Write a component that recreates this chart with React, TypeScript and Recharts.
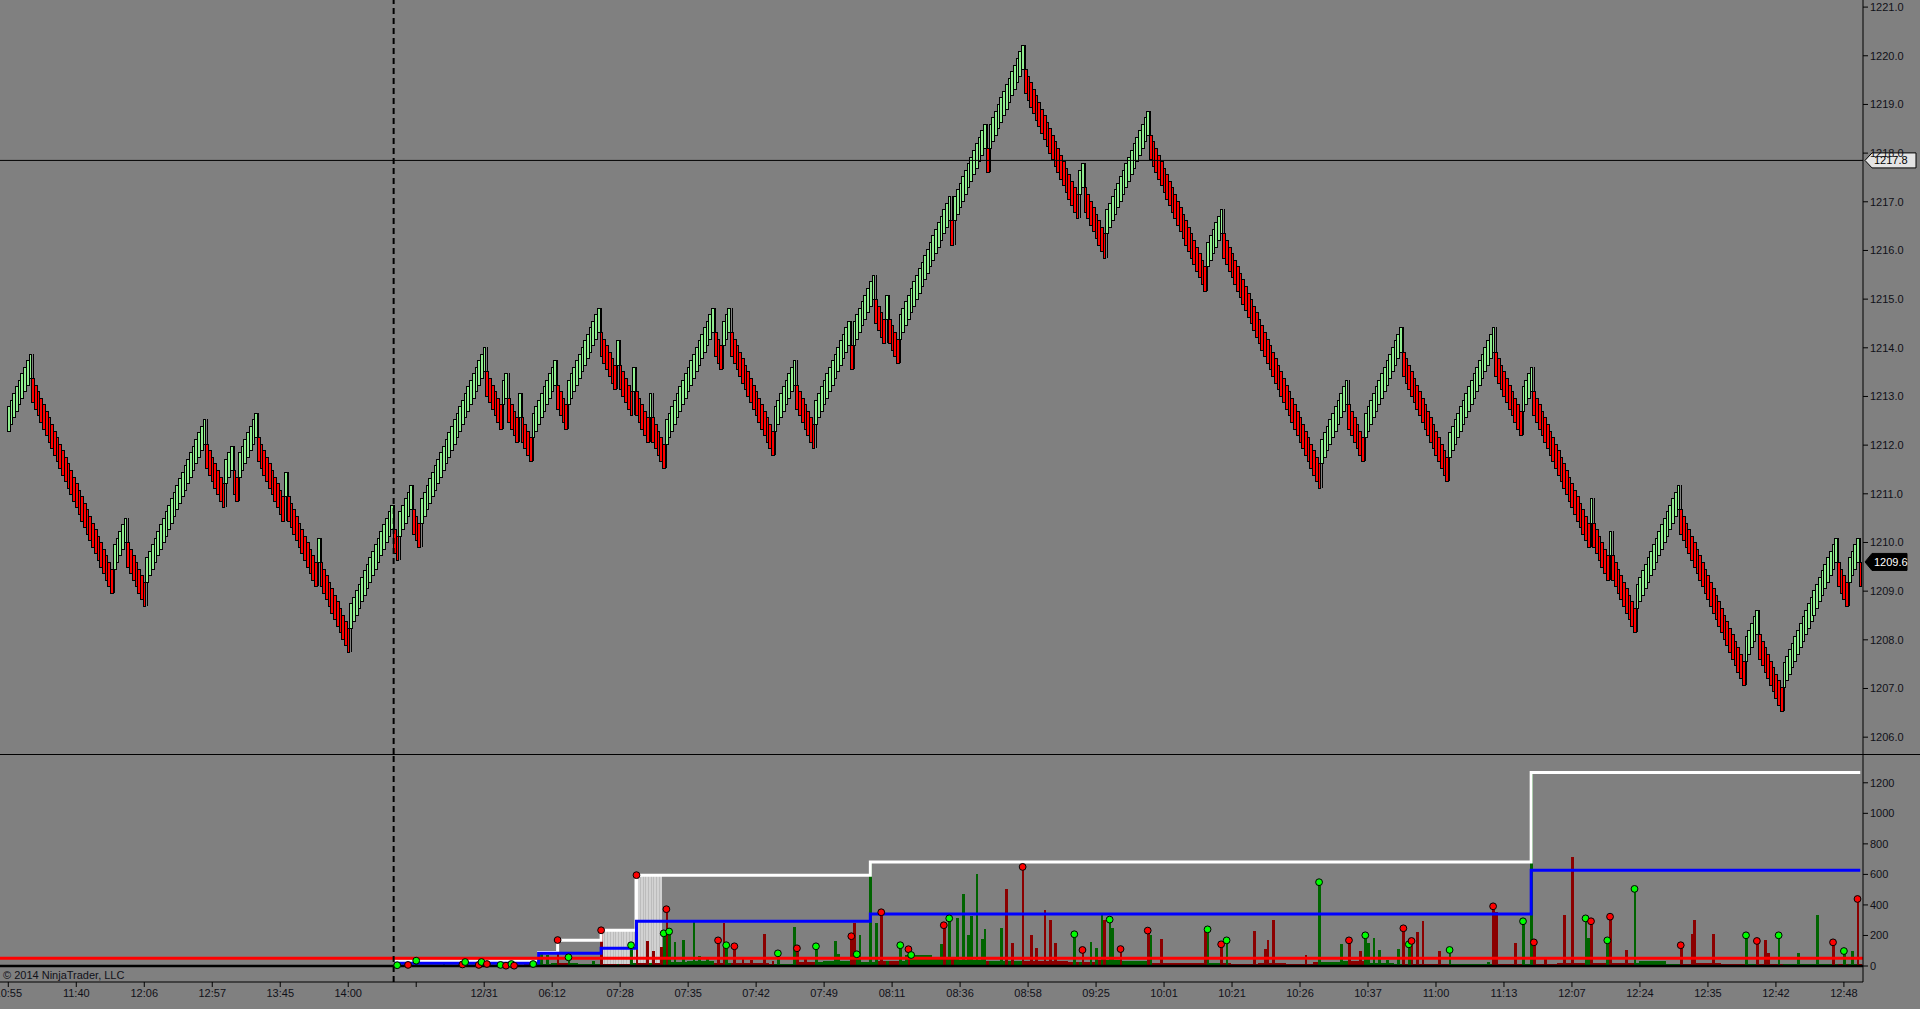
import React from 'react';
import { ComposedChart, Bar, Line, Scatter, XAxis, YAxis, ReferenceLine } from 'recharts';

const BG = '#808080';
const UP = '#90ee90';
const DOWN = '#ff0000';
const VOL_UP = '#006400';
const VOL_DOWN = '#8b0000';
const TEXT = '#101018';
const FONT = '"Liberation Sans", Arial, sans-serif';

const W = 1920;
const AXIS_W = 57;
const TOP_H = 754;
const BOT_H = 255;
const BAR_W = 2.72;

// renko-style bricks: signed run lengths (+ up bricks, - down bricks)
const START_CLOSE = 1212.8;
const BRICK = 0.135;
const BODY = 0.5;
const RUNS = [
  9, -30, 5, -7, 22, -7, 3, -2, 7,
  -10, 1, -11, 1, -11,
  16, -2, 5, -3, 24, -6, 2,
  -4, 1, -4,
  9, -4, 12,
  -6, 1, -5, 1, -5, 1, -5,
  18, -3, 3, -16, 8, -7, 13, -1, 8,
  -4, 1, -4,
  19, -1, 12, -1, 13,
  -20, 2, -8, 16, -21, 6, -36, 10, -6, 14, -17, 17, -10, 4,
  -21, 1, -6, 1, -9,
  16, -24, 5, -9, 20, -4, 4, -1,
];

const X_DOMAIN: [number, number] = [-3.05, 682.02];
const PRICE_DOMAIN: [number, number] = [1205.654, 1221.146];
const PRICE_TICKS = [1206, 1207, 1208, 1209, 1210, 1211, 1212, 1213, 1214, 1215, 1216, 1217, 1218, 1219, 1220, 1221];
const VOL_DOMAIN: [number, number] = [-104.8, 1388.6];
const VOL_TICKS = [0, 200, 400, 600, 800, 1000, 1200];

const TIME_TICKS = [0, 25, 50, 75, 100, 125, 150, 175, 200, 225, 250, 275, 300, 325, 350, 375, 400, 425, 450, 475, 500, 525, 550, 575, 600, 625, 650, 675];
const TIME_LABELS = ['10:55', '11:40', '12:06', '12:57', '13:45', '14:00', '', '12/31', '06:12', '07:28', '07:35', '07:42', '07:49', '08:11', '08:36', '08:58', '09:25', '10:01', '10:21', '10:26', '10:37', '11:00', '11:13', '12:07', '12:24', '12:35', '12:42', '12:48'];

const CROSS_I = 141.7;
const CROSS_PRICE = 1217.85;
const CROSS_LABEL = '1217.8';
const LAST_PRICE = 1209.6;

// lower panel
const VOL_START = 143;
const CARPET_START = 140; // one level per 10 bars
const CARPET = [
  4, 5, 8, 6, 5, 12, 18, 14, 16, 20,
  28, 30, 22, 18, 16, 24, 30, 28, 35, 70,
  45, 40, 35, 30, 35, 25, 40, 30, 20, 18,
  22, 15, 20, 16, 25, 30, 22, 15, 12, 10,
  14, 12, 16, 20, 22, 18, 30, 16, 20, 14,
  12, 14, 16, 12, 14,
];
// [bar, value, colour g/r, dot 1/0]
const SPIKES: [number, number, string, number][] = [
  [143, 5, 'g', 1], [147, 7, 'r', 1], [150, 35, 'g', 1], [160, 12, 'g', 0], [167, 10, 'r', 1], [168, 26, 'g', 1],
  [173, 7, 'r', 1], [174, 26, 'g', 1], [176, 13, 'r', 1], [181, 7, 'g', 1], [183, 2, 'r', 1], [185, 13, 'g', 1],
  [186, 2, 'r', 1], [193, 13, 'g', 1], [196, 83, 'g', 0], [198, 72, 'g', 0], [202, 170, 'r', 1], [206, 57, 'g', 1],
  [210, 13, 'g', 0], [215, 35, 'g', 0], [218, 234, 'r', 1], [229, 136, 'g', 1], [231, 595, 'r', 1], [235, 164, 'r', 0],
  [237, 98, 'r', 0], [240, 124, 'r', 0], [241, 214, 'g', 1], [242, 372, 'r', 1], [243, 226, 'g', 1], [245, 157, 'g', 0],
  [248, 170, 'g', 0], [252, 293, 'g', 0], [254, 66, 'g', 0], [257, 44, 'g', 0], [261, 168, 'r', 1], [263, 280, 'r', 0],
  [264, 136, 'g', 1], [267, 129, 'r', 1], [270, 44, 'r', 0], [273, 37, 'r', 0], [278, 210, 'r', 0], [281, 31, 'r', 0],
  [283, 83, 'g', 1], [289, 256, 'g', 0], [290, 116, 'r', 1], [293, 44, 'r', 0], [297, 129, 'g', 1], [301, 31, 'g', 0],
  [304, 164, 'g', 0], [305, 77, 'g', 0], [310, 195, 'r', 1], [311, 280, 'r', 0], [312, 77, 'g', 1], [313, 205, 'g', 0],
  [317, 682, 'g', 0], [319, 282, 'g', 0], [321, 352, 'r', 1], [328, 136, 'g', 1], [331, 110, 'r', 1], [332, 72, 'g', 1],
  [343, 142, 'g', 0], [344, 267, 'r', 1], [346, 312, 'g', 1], [349, 312, 'g', 0], [351, 472, 'g', 0], [353, 200, 'g', 0],
  [354, 330, 'g', 0], [356, 601, 'g', 0], [358, 180, 'g', 0], [359, 240, 'g', 0], [365, 250, 'g', 0], [367, 505, 'r', 0],
  [369, 150, 'r', 0], [373, 649, 'r', 1], [376, 200, 'r', 0], [378, 120, 'r', 0], [381, 368, 'r', 0], [383, 300, 'r', 0],
  [385, 150, 'r', 0], [392, 208, 'g', 1], [395, 105, 'r', 1], [398, 160, 'g', 0], [400, 120, 'g', 0], [402, 344, 'g', 0],
  [403, 300, 'r', 0], [405, 304, 'g', 1], [406, 250, 'g', 0], [409, 111, 'r', 1], [419, 232, 'r', 1], [420, 200, 'g', 0],
  [424, 180, 'r', 0], [440, 250, 'r', 0], [441, 240, 'g', 1], [446, 142, 'r', 1], [448, 168, 'g', 1], [458, 230, 'r', 0],
  [462, 109, 'r', 0], [463, 170, 'r', 0], [465, 302, 'r', 0], [477, 72, 'r', 0], [482, 549, 'g', 1], [490, 142, 'g', 0],
  [493, 168, 'r', 1], [497, 100, 'r', 0], [499, 201, 'g', 1], [500, 153, 'g', 0], [502, 181, 'g', 0], [504, 105, 'g', 0],
  [507, 42, 'g', 0], [511, 109, 'g', 0], [513, 247, 'r', 1], [515, 142, 'g', 1], [516, 164, 'r', 1], [518, 221, 'r', 0],
  [520, 293, 'r', 0], [526, 101, 'r', 0], [530, 105, 'g', 1], [544, 28, 'g', 0], [546, 391, 'r', 1], [547, 352, 'r', 0],
  [554, 148, 'r', 0], [557, 293, 'g', 1], [560, 1270, 'g', 0], [561, 155, 'r', 1], [565, 61, 'r', 0], [572, 334, 'r', 0],
  [575, 713, 'r', 0], [580, 312, 'g', 1], [581, 181, 'g', 0], [582, 293, 'r', 1], [588, 168, 'g', 1], [589, 323, 'r', 1],
  [595, 105, 'r', 0], [598, 505, 'g', 1], [615, 136, 'r', 1], [619, 212, 'r', 0], [620, 304, 'r', 0], [627, 210, 'r', 0],
  [639, 201, 'g', 1], [643, 164, 'r', 1], [646, 168, 'r', 0], [647, 87, 'r', 0], [651, 201, 'g', 1], [658, 87, 'g', 0],
  [665, 334, 'g', 0], [671, 155, 'r', 1], [675, 98, 'g', 1], [678, 98, 'g', 0], [680, 439, 'r', 1],
];
// step lines: [from bar, level]
const WHITE_STEPS = [[142, 33], [195, 88], [202, 168], [218, 234], [231, 595], [317, 682], [560, 1268]];
const BLUE_STEPS = [[142, 18], [195, 83], [202, 83], [218, 116], [231, 293], [317, 340], [560, 627]];
// light grey blocks: [from, to, level]
const SHADE = [[219, 230, 234], [231, 240, 595]];

type Candle = { i: number; o: number; c: number; hi: number; lo: number; up: boolean; range: [number, number] };

function buildCandles(): Candle[] {
  const out: Candle[] = [];
  let prev: Candle | null = null;
  RUNS.forEach((run) => {
    const up = run > 0;
    const dir = up ? 1 : -1;
    for (let k = 0; k < Math.abs(run); k++) {
      let o: number;
      let c: number;
      if (!prev) {
        c = START_CLOSE;
        o = c - dir * BODY;
      } else if (prev.up === up) {
        c = prev.c + dir * BRICK;
        o = c - dir * BODY;
      } else {
        o = prev.o;
        c = o + dir * BODY;
      }
      let hi = Math.max(o, c);
      let lo = Math.min(o, c);
      if (prev && prev.up !== up) {
        if (up) lo = Math.min(lo, prev.c);
        else hi = Math.max(hi, prev.c);
      }
      const bar: Candle = { i: out.length, o, c, hi, lo, up, range: [lo, hi] };
      out.push(bar);
      prev = bar;
    }
  });
  return out;
}

const candles = buildCandles();

function stepValue(steps: number[][], i: number) {
  let v: number | null = null;
  for (const [from, level] of steps) if (i >= from) v = level;
  return v;
}

const spikeMap = new Map(SPIKES.map((s) => [s[0], s]));

const volData = candles.map((cd) => {
  const i = cd.i;
  const s = spikeMap.get(i);
  let v: number | null = null;
  let vc = cd.up ? VOL_UP : VOL_DOWN;
  if (s) {
    v = s[1];
    vc = s[2] === 'g' ? VOL_UP : VOL_DOWN;
  } else if (i >= VOL_START) {
    v = CARPET[Math.floor((i - CARPET_START) / 10)] ?? null;
  }
  let shade: number | null = null;
  for (const [a, b, lvl] of SHADE) if (i >= a && i <= b) shade = lvl;
  return { i, v, vc, shade, white: stepValue(WHITE_STEPS, i), blue: stepValue(BLUE_STEPS, i) };
});

const dots = SPIKES.filter((s) => s[3] === 1).map((s) => ({ i: s[0], d: s[1], g: s[2] === 'g' }));

// snap a bar slot to whole pixels, like the GDI original
function slot(x: number, width: number) {
  const cx = x + width / 2;
  const left = Math.round(cx - BAR_W / 2);
  const right = Math.round(cx + BAR_W / 2);
  return { cx, left, right };
}

function CandleShape(props: any) {
  const { x, y, width, height, payload } = props;
  if (!payload || !isFinite(y) || !isFinite(height)) return null;
  const { cx, left, right } = slot(x, width);
  const k = height / (payload.hi - payload.lo);
  const top = Math.round(y + (payload.hi - Math.max(payload.o, payload.c)) * k);
  const bottom = Math.round(y + (payload.hi - Math.min(payload.o, payload.c)) * k);
  const wx = Math.round(cx) + 0.5;
  return (
    <g shapeRendering="crispEdges">
      <line x1={wx} x2={wx} y1={Math.round(y)} y2={Math.round(y + height)} stroke="#000" strokeWidth={1} />
      <rect x={left + 0.5} y={top + 0.5} width={right - left} height={bottom - top} fill={payload.up ? UP : DOWN} stroke="#000" strokeWidth={1} />
    </g>
  );
}

function VolShape(props: any) {
  const { x, y, width, height, payload } = props;
  if (!payload || payload.v == null || !isFinite(y)) return null;
  const { left, right } = slot(x, width);
  const top = Math.round(y);
  const bottom = Math.round(y + Math.max(height, 0));
  return <rect x={left} y={top} width={right - left} height={bottom - top} fill={payload.vc} shapeRendering="crispEdges" />;
}

function ShadeShape(props: any) {
  const { x, y, width, height, payload } = props;
  if (!payload || payload.shade == null || !isFinite(y)) return null;
  const { left, right } = slot(x, width);
  const top = Math.round(y);
  const bottom = Math.round(y + Math.max(height, 0));
  return (
    <g shapeRendering="crispEdges">
      <rect x={left} y={top} width={right - left} height={bottom - top} fill="#d2d2d2" />
      <rect x={left} y={top} width={1} height={bottom - top} fill="#bcbcbc" />
    </g>
  );
}

function DotShape(props: any) {
  const { cx, cy, payload } = props;
  if (!isFinite(cx) || !isFinite(cy)) return null;
  return <circle cx={cx} cy={cy} r={3.4} fill={payload.g ? '#00ff00' : '#ff0000'} stroke="#000" strokeWidth={1} />;
}

function PriceTag(props: any) {
  const { viewBox, text, dark } = props;
  if (!viewBox) return null;
  const x0 = viewBox.x + viewBox.width + 2;
  const y0 = viewBox.y;
  const w = dark ? 42 : 51;
  const h = dark ? 8.5 : 7.5;
  const d = `M${x0} ${y0} L${x0 + 7} ${y0 - h} L${x0 + w} ${y0 - h} L${x0 + w} ${y0 + h} L${x0 + 7} ${y0 + h} Z`;
  return (
    <g>
      <path d={d} fill={dark ? '#000' : '#e4e4e4'} stroke="#000" strokeWidth={1} />
      <text x={x0 + 9} y={y0 + 4} fontSize={11} fontFamily={FONT} fill={dark ? '#fff' : '#000'}>
        {text}
      </text>
    </g>
  );
}

const tickStyle = { fill: TEXT, fontSize: 11, fontFamily: FONT };

export default function App() {
  return (
    <div style={{ position: 'fixed', left: 0, top: 0, width: W, height: 1009, background: BG, overflow: 'hidden', fontFamily: FONT }}>
      <div style={{ position: 'absolute', left: 0, top: 0 }}>
        <ComposedChart width={W} height={TOP_H} data={candles} margin={{ top: 0, right: 0, bottom: 0, left: 0 }}>
          <XAxis dataKey="i" type="number" domain={X_DOMAIN} allowDataOverflow hide />
          <YAxis
            orientation="right"
            width={AXIS_W}
            type="number"
            domain={PRICE_DOMAIN}
            allowDataOverflow
            ticks={PRICE_TICKS}
            interval={0}
            tickFormatter={(v: number) => v.toFixed(1)}
            tick={tickStyle}
            tickSize={5}
            axisLine={{ stroke: '#000' }}
            tickLine={{ stroke: '#000' }}
          />
          <Bar dataKey="range" shape={CandleShape} barSize={3} isAnimationActive={false} />
          <ReferenceLine x={CROSS_I} stroke="#000" strokeWidth={2} strokeDasharray="6 4" />
          <ReferenceLine y={CROSS_PRICE} stroke="#000" strokeWidth={1} label={<PriceTag text={CROSS_LABEL} />} />
          <ReferenceLine y={LAST_PRICE} stroke="#000" strokeOpacity={0} label={<PriceTag text={LAST_PRICE.toFixed(1)} dark />} />
        </ComposedChart>
      </div>
      <div style={{ position: 'absolute', left: 0, top: TOP_H, width: W, height: 1, background: '#000' }} />
      <div style={{ position: 'absolute', left: 0, top: TOP_H }}>
        <ComposedChart width={W} height={BOT_H} data={volData} margin={{ top: 0, right: 0, bottom: 0, left: 0 }}>
          <XAxis
            dataKey="i"
            type="number"
            domain={X_DOMAIN}
            allowDataOverflow
            ticks={TIME_TICKS}
            interval={0}
            tickFormatter={(v: number) => TIME_LABELS[TIME_TICKS.indexOf(v)] ?? ''}
            tick={tickStyle}
            tickSize={5}
            height={27}
            axisLine={{ stroke: '#000' }}
            tickLine={{ stroke: '#000' }}
          />
          <YAxis
            orientation="right"
            width={AXIS_W}
            type="number"
            domain={VOL_DOMAIN}
            allowDataOverflow
            ticks={VOL_TICKS}
            interval={0}
            tick={tickStyle}
            tickSize={5}
            axisLine={{ stroke: '#000' }}
            tickLine={{ stroke: '#000' }}
          />
          <Bar dataKey="shade" shape={ShadeShape} barSize={3} isAnimationActive={false} />
          <Bar dataKey="v" shape={VolShape} barSize={3} isAnimationActive={false} />
          <Line type="stepAfter" dataKey="white" stroke="#ffffff" strokeWidth={3} dot={false} activeDot={false} isAnimationActive={false} />
          <Line type="stepAfter" dataKey="blue" stroke="#0000ff" strokeWidth={3} dot={false} activeDot={false} isAnimationActive={false} />
          <ReferenceLine y={50} stroke="#ff0000" strokeWidth={3} />
          <ReferenceLine y={0} stroke="#000" strokeWidth={2.5} />
          <ReferenceLine x={CROSS_I} stroke="#000" strokeWidth={2} strokeDasharray="6 4" />
          <Scatter data={dots} dataKey="d" shape={DotShape} isAnimationActive={false} />
        </ComposedChart>
      </div>
      <div style={{ position: 'absolute', left: 3, top: 969, fontSize: 11, color: TEXT, whiteSpace: 'nowrap' }}>
        © 2014 NinjaTrader, LLC
      </div>
    </div>
  );
}
